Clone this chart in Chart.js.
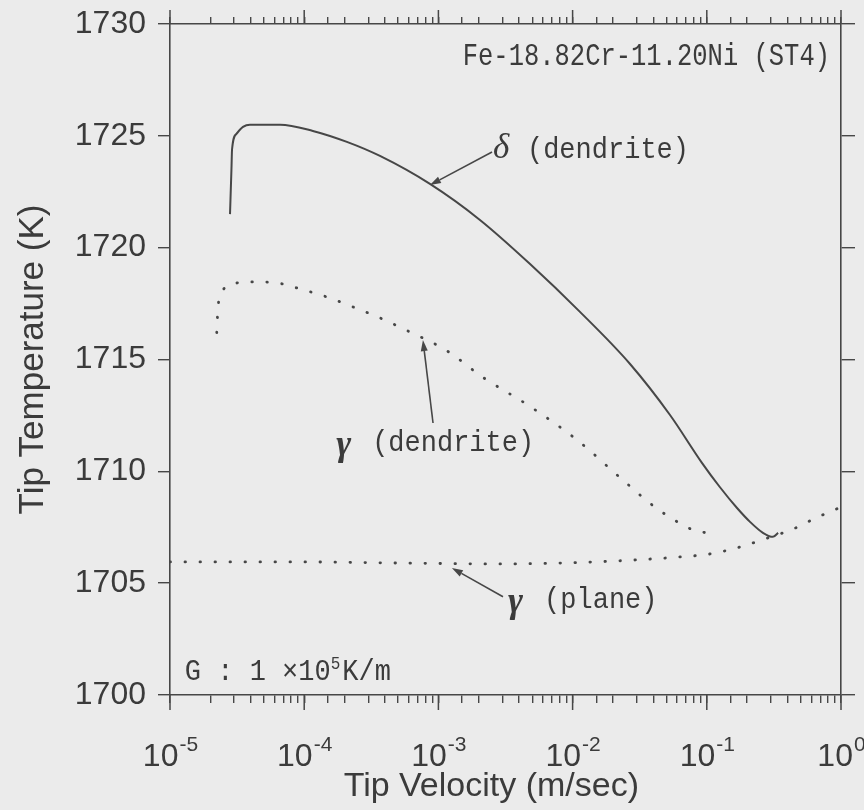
<!DOCTYPE html>
<html>
<head>
<meta charset="utf-8">
<script src="https://cdn.jsdelivr.net/npm/chart.js@4.4.1/dist/chart.umd.min.js"></script>
<style>
  html, body { margin: 0; padding: 0; background: #ebebeb; }
  #wrap { width: 864px; height: 810px; }
</style>
</head>
<body>
<div id="wrap"><canvas id="chart" width="864" height="810"></canvas></div>
<script>
// Tip temperature against tip velocity for Fe-18.82Cr-11.20Ni (ST4), G = 1e5 K/m

// delta-ferrite dendrite tip
const deltaDendriteV = [2.80e-5, 2.87e-5, 2.90e-5, 3.14e-5, 3.50e-5, 3.94e-5, 5.10e-5, 6.61e-5,
  1.16e-4, 2.08e-4, 3.67e-4, 8.65e-4, 2.04e-3, 4.82e-3, 1.135e-2, 2.68e-2, 5.32e-2,
  9.20e-2, 0.125, 0.168, 0.210, 0.262, 0.311, 0.340];
const deltaDendriteT = [1721.5, 1723.5, 1724.4, 1725.1, 1725.4, 1725.5, 1725.5, 1725.5,
  1725.22, 1724.73, 1724.1, 1722.85, 1721.24, 1719.27, 1717.13, 1714.8, 1712.52,
  1710.38, 1709.3, 1708.36, 1707.74, 1707.25, 1707.07, 1707.25];

// austenite dendrite tip
const gammaDendriteV = [2.23e-5, 2.28e-5, 2.48e-5, 3.05e-5, 4.06e-5, 6.61e-5, 8.79e-5, 1.47e-4,
  2.31e-4, 3.67e-4, 5.81e-4, 1.15e-3, 2.15e-3, 4.82e-3, 1.08e-2, 2.38e-2, 4.11e-2, 6.21e-2,
  7.76e-2, 9.86e-2];
const gammaDendriteT = [1716.2, 1717.35, 1718.1, 1718.4, 1718.47, 1718.4, 1718.2, 1717.8,
  1717.35, 1716.86, 1716.3, 1715.4, 1714.2, 1712.9, 1711.4, 1709.6, 1708.4, 1707.7,
  1707.4, 1707.25];

// austenite plane front
const gammaPlaneV = [1e-5, 9.3e-5, 5.2e-4, 2.9e-3, 8.1e-3, 2.25e-2, 3.8e-2, 6.2e-2, 0.104,
  0.168, 0.272, 0.439, 0.675, 0.857, 1.0];
const gammaPlaneT = [1705.95, 1705.95, 1705.9, 1705.86, 1705.9, 1706.0, 1706.08, 1706.17, 1706.3,
  1706.58, 1706.98, 1707.42, 1707.96, 1708.23, 1708.4];

// axis labelling
const velocityDecades = [1e-5, 1e-4, 1e-3, 1e-2, 1e-1, 1];
const decadeExponents = ['-5', '-4', '-3', '-2', '-1', '0'];
const temperatureStep = 5;

// callouts, placed in data coordinates (velocity, temperature)
const calloutArrows = [
  { from: [2.51e-3, 1724.28], to: [8.65e-4, 1722.8] },
  { from: [9.12e-4, 1712.16], to: [7.67e-4, 1715.87] },
  { from: [3.03e-3, 1704.39], to: [1.26e-3, 1705.68] }
];
const calloutLabels = [
  { symbol: 'δ', text: '(dendrite)', at: [2.55e-3, 1724.37] },
  { symbol: 'γ', text: '(dendrite)', at: [1.79e-4, 1711.27] },
  { symbol: 'γ', text: '(plane)', at: [3.42e-3, 1704.25] }
];
const alloyLabel = { text: 'Fe-18.82Cr-11.20Ni (ST4)', at: [0.828, 1728.52] };
const gradientLabel = { lead: 'G : 1 ×10', power: '5', tail: 'K/m', at: [1.29e-5, 1701.03] };

const INK = '#474747';
const TEXT = '#3b3b3b';
const SANS = '"Liberation Sans", Arial, Helvetica, sans-serif';
const MONO = '"Liberation Mono", "DejaVu Sans Mono", monospace';
const SERIF = '"Liberation Serif", "DejaVu Serif", serif';

const toPoints = (vs, ts) => vs.map((v, i) => ({ x: v, y: ts[i] }));

const pageFill = {
  id: 'pageFill',
  beforeDraw(chart) {
    const c = chart.ctx;
    c.save();
    c.fillStyle = '#ebebeb';
    c.fillRect(0, 0, chart.width, chart.height);
    c.restore();
  }
};

const decorations = {
  id: 'decorations',
  afterDraw(chart) {
    const c = chart.ctx;
    const xs = chart.scales.x, ys = chart.scales.y, xt = chart.scales.xTop;
    const P = (v, t) => ({ x: xs.getPixelForValue(v), y: ys.getPixelForValue(t) });
    c.save();

    // longer marks at each decade on both horizontal axes
    c.strokeStyle = INK;
    c.lineWidth = 1.5;
    velocityDecades.forEach(v => {
      const x = xs.getPixelForValue(v);
      c.beginPath();
      c.moveTo(x, xs.top);
      c.lineTo(x, xs.top + 15);
      c.stroke();
      c.beginPath();
      c.moveTo(x, xt.bottom);
      c.lineTo(x, xt.bottom - 14);
      c.stroke();
    });

    // decade labels 10^n
    c.fillStyle = TEXT;
    c.textBaseline = 'alphabetic';
    c.textAlign = 'left';
    velocityDecades.forEach((v, i) => {
      const x = xs.getPixelForValue(v);
      c.font = '32px ' + SANS;
      const w1 = c.measureText('10').width;
      c.font = '21px ' + SANS;
      const w2 = c.measureText(decadeExponents[i]).width;
      const x0 = x - (w1 + w2) / 2;
      const base = xs.top + 71;
      c.font = '32px ' + SANS;
      c.fillText('10', x0, base);
      c.font = '21px ' + SANS;
      c.fillText(decadeExponents[i], x0 + w1 + 1, base - 15);
    });

    // arrows
    c.strokeStyle = INK;
    c.fillStyle = INK;
    c.lineWidth = 1.6;
    calloutArrows.forEach(a => {
      const p0 = P(a.from[0], a.from[1]);
      const p1 = P(a.to[0], a.to[1]);
      const ang = Math.atan2(p1.y - p0.y, p1.x - p0.x);
      const L = 11, W = 3.5;
      const bx = p1.x - L * Math.cos(ang), by = p1.y - L * Math.sin(ang);
      c.beginPath();
      c.moveTo(p0.x, p0.y);
      c.lineTo(bx, by);
      c.stroke();
      c.beginPath();
      c.moveTo(p1.x, p1.y);
      c.lineTo(bx - W * Math.sin(ang), by + W * Math.cos(ang));
      c.lineTo(bx + W * Math.sin(ang), by - W * Math.cos(ang));
      c.closePath();
      c.fill();
    });

    // curve labels
    c.fillStyle = TEXT;
    c.textBaseline = 'middle';
    c.textAlign = 'left';
    const stretched = (txt, x, y, font, sy) => {
      c.save();
      c.translate(x, y);
      c.scale(1, sy);
      c.font = font;
      c.fillText(txt, 0, 0);
      c.restore();
    };
    calloutLabels.forEach(l => {
      const p = P(l.at[0], l.at[1]);
      if (l.symbol === 'γ') {
        c.font = 'italic bold 36px ' + SERIF;
        c.fillText(l.symbol, p.x - 2, p.y + 3);
      } else {
        c.font = 'italic 35px ' + SERIF;
        c.fillText(l.symbol, p.x, p.y - 1);
      }
      stretched(l.text, p.x + 34, p.y, '27px ' + MONO, 1.12);
    });

    // alloy designation, top right
    {
      const p = P(alloyLabel.at[0], alloyLabel.at[1]);
      c.save();
      c.textAlign = 'right';
      stretched(alloyLabel.text, p.x, p.y, '25.5px ' + MONO, 1.22);
      c.restore();
    }

    // temperature gradient note, bottom left
    {
      const p = P(gradientLabel.at[0], gradientLabel.at[1]);
      c.font = '27px ' + MONO;
      const w1 = c.measureText(gradientLabel.lead).width;
      stretched(gradientLabel.lead, p.x, p.y, '27px ' + MONO, 1.1);
      c.font = '16px ' + MONO;
      const w2 = c.measureText(gradientLabel.power).width;
      stretched(gradientLabel.power, p.x + w1, p.y - 8, '16px ' + MONO, 1.1);
      stretched(gradientLabel.tail, p.x + w1 + w2 + 2, p.y, '27px ' + MONO, 1.1);
    }
    c.restore();
  }
};

const axisGrid = (len) => ({
  drawOnChartArea: false,
  drawTicks: true,
  tickLength: len,
  color: INK,
  lineWidth: 1.4
});
const axisBorder = { display: true, color: INK, width: 1.6 };
const noPadding = s => { s.paddingTop = 0; s.paddingBottom = 0; s.paddingLeft = 0; s.paddingRight = 0; };

new Chart(document.getElementById('chart'), {
  type: 'line',
  data: {
    datasets: [
      {
        label: 'δ (dendrite)',
        data: toPoints(deltaDendriteV, deltaDendriteT),
        borderColor: INK,
        borderWidth: 2,
        pointRadius: 0,
        cubicInterpolationMode: 'monotone',
        fill: false
      },
      {
        label: 'γ (dendrite)',
        data: toPoints(gammaDendriteV, gammaDendriteT),
        borderColor: INK,
        borderWidth: 2.8,
        borderDash: [0.5, 14.5],
        borderCapStyle: 'round',
        pointRadius: 0,
        cubicInterpolationMode: 'monotone',
        fill: false
      },
      {
        label: 'γ (plane)',
        data: toPoints(gammaPlaneV, gammaPlaneT),
        borderColor: INK,
        borderWidth: 2.8,
        borderDash: [0.5, 14.5],
        borderCapStyle: 'round',
        pointRadius: 0,
        cubicInterpolationMode: 'monotone',
        fill: false
      }
    ]
  },
  options: {
    responsive: false,
    animation: false,
    events: [],
    layout: { padding: 0 },
    plugins: { legend: { display: false }, tooltip: { enabled: false } },
    scales: {
      x: {
        type: 'logarithmic',
        position: 'bottom',
        min: 1e-5,
        max: 1,
        ticks: { display: false },
        grid: axisGrid(8),
        border: axisBorder,
        title: {
          display: true,
          text: 'Tip Velocity (m/sec)   ',
          color: TEXT,
          font: { family: SANS, size: 34 },
          padding: { top: 0, bottom: 3 }
        },
        afterFit: s => { s.height = 115; noPadding(s); }
      },
      xTop: {
        type: 'logarithmic',
        position: 'top',
        min: 1e-5,
        max: 1,
        ticks: { display: false },
        grid: axisGrid(7),
        border: axisBorder,
        afterFit: s => { s.height = 24; noPadding(s); }
      },
      y: {
        type: 'linear',
        position: 'left',
        min: 1700,
        max: 1730,
        ticks: {
          stepSize: temperatureStep,
          color: TEXT,
          padding: 12,
          font: { family: SANS, size: 32 },
          callback: v => String(v)
        },
        grid: axisGrid(12),
        border: axisBorder,
        title: {
          display: true,
          text: 'Tip Temperature (K)',
          color: TEXT,
          font: { family: SANS, size: 35 },
          padding: { top: 12, bottom: 0 }
        },
        afterFit: s => { s.width = 170; noPadding(s); }
      },
      yRight: {
        type: 'linear',
        position: 'right',
        min: 1700,
        max: 1730,
        ticks: { display: false, stepSize: temperatureStep },
        grid: axisGrid(14),
        border: axisBorder,
        afterFit: s => { s.width = 23; noPadding(s); }
      }
    }
  },
  plugins: [pageFill, decorations]
});
</script>
</body>
</html>
